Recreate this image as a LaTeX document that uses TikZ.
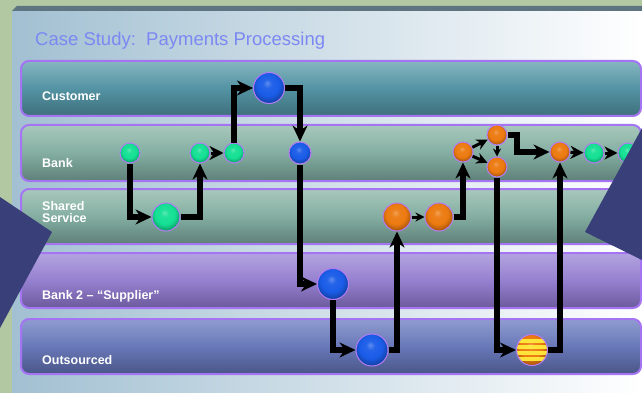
\documentclass[tikz,border=0pt]{standalone}
\usepackage{fontspec}
\setmainfont{Liberation Sans}
\usepackage{xcolor}
\usepackage{tikz}
\usetikzlibrary{
	arrows.meta,shapes
}

\definecolor{backgreen}{HTML}{B2C8A2}
\definecolor{panelleft}{HTML}{A2C0D2}
\definecolor{paneltop}{HTML}{5E7480}
\definecolor{titleblue}{HTML}{7C88F2}
\definecolor{lanerim}{HTML}{A474F2}
\definecolor{ballrim}{HTML}{B47CF4}
\definecolor{custmid}{HTML}{5393A3}
\definecolor{custtop}{HTML}{86B6C0}
\definecolor{custbot}{HTML}{3F6F7C}
\definecolor{bankmid}{HTML}{84AEA2}
\definecolor{banktop}{HTML}{A8C8BC}
\definecolor{bankbot}{HTML}{5E8078}
\definecolor{supmid}{HTML}{9580D0}
\definecolor{suptop}{HTML}{B4A4E0}
\definecolor{supbot}{HTML}{6C5A9C}
\definecolor{outmid}{HTML}{6878B8}
\definecolor{outtop}{HTML}{909CD0}
\definecolor{outbot}{HTML}{4A5688}
\definecolor{wedge}{HTML}{393F79}
\definecolor{ballgreen}{HTML}{14E094}
\definecolor{ballblue}{HTML}{1A5CE8}
\definecolor{ballorange}{HTML}{EC7A10}
\definecolor{stripe}{HTML}{FFF040}

% flat glossy balls
\newcommand\declareball[2]{%
	\pgfdeclareradialshading{#1}{\pgfqpoint{-3bp}{8bp}}{%
		color(0bp)=(#2!70!white); color(7bp)=(#2!95!white);
		color(18bp)=(#2); color(27bp)=(#2!72!black);
		color(50bp)=(#2!60!black)}}
\declareball{greenshade}{ballgreen}
\declareball{blueshade}{ballblue}
\declareball{orangeshade}{ballorange}

\begin{document}
\begin{tikzpicture}[x=1pt,y=-1pt,
	lane/.style={draw=lanerim,line width=2pt,rounded corners=8pt},
	lanelabel/.style={anchor=base west,text=white,align=left,inner sep=0pt,
		font=\bfseries\fontsize{12.5}{12.5}\selectfont},
	ball/.style={circle,draw=ballrim,line width=1pt,inner sep=0pt,minimum size=#1},
	ball/.default=20pt,
	gball/.style={ball=#1,shading=greenshade},
	bball/.style={ball=#1,shading=blueshade},
	oball/.style={ball=#1,shading=orangeshade},
	gball/.default=20pt, bball/.default=20pt, oball/.default=20pt,
	stripes/.style={path picture={
		\foreach \dy in {-9,-3,3,9}
		\fill[stripe,opacity=0.9] ([yshift={(\dy-1.6)*1pt}]path picture bounding box.west)
			rectangle ([yshift={(\dy+1.6)*1pt}]path picture bounding box.east);}},
	flow/.style={line width=5.4pt,-{Stealth[length=16pt,width=15pt]}},
	hop/.style={line width=3pt,-{Stealth[length=#1,width=#1]}},
	hop/.default=12pt,
	vh/.style={to path={|- (\tikztotarget)}},
	hv/.style={to path={-| (\tikztotarget)}}
	]
	% background
	\useasboundingbox (0,0) rectangle (642,393);
	\fill[backgreen] (0,0) rectangle (642,393);
	\shade[left color=panelleft,right color=white] (12,11) rectangle (642,393);
	\fill[paneltop] (12,11) -- (17,6) -- (642,6) -- (642,11) -- cycle;
	\node[anchor=base west,inner sep=0pt,text=titleblue,font=\fontsize{18.5}{18.5}\selectfont] (title) at (35,46)
		{Case Study:~~Payments Processing};
	% lanes
	\draw[lane,top color=custtop,bottom color=custbot,middle color=custmid] (21,61) rectangle (641,116);
	\draw[lane,top color=banktop,bottom color=bankbot,middle color=bankmid] (21,125) rectangle (641,181);
	\draw[lane,top color=banktop,bottom color=bankbot,middle color=bankmid] (21,189) rectangle (641,244);
	\draw[lane,top color=suptop,bottom color=supbot,middle color=supmid] (21,253) rectangle (641,308);
	\draw[lane,top color=outtop,bottom color=outbot,middle color=outmid] (21,319) rectangle (641,374);
	\node[lanelabel] (cust) at (42,101) {Customer};
	\node[lanelabel] (bank) at (42,167) {Bank};
	\node[lanelabel,anchor=north west] (shared) at (42,201) {Shared\\Service};
	\node[lanelabel] (sup) at (42,299) {Bank 2 -- ``Supplier''};
	\node[lanelabel] (out) at (42,364) {Outsourced};
	% nodes
	\node[gball] (g1) at (130,153) {};
	\node[gball] (g2) at (200,153) {};
	\node[gball] (g3) at (234,153) {};
	\node[gball=28pt] (g4) at (166,217) {};
	\node[bball=31pt] (b1) at (269,88) {};
	\node[bball=22pt] (b2) at (300,153) {};
	\node[bball=31pt] (b3) at (333,284) {};
	\node[bball=32pt] (b4) at (372,350) {};
	\node[oball=28pt] (o1) at (397,217) {};
	\node[oball=28pt] (o2) at (439,217) {};
	\node[oball] (o3) at (463,152) {};
	\node[oball] (o4) at (497,135) {};
	\node[oball] (o5) at (497,167) {};
	\node[oball] (o6) at (560,152) {};
	\node[oball=31pt,stripes] (y1) at (532,350) {};
	\node[gball] (g5) at (594,153) {};
	\node[gball] (g6) at (628,153) {};
	\coordinate (k1) at (517,152);
	%
	\path[flow]
	% bent arrows
	(g1) edge[vh] (g4)
	(g4) edge[hv] (g2)
	(g3) edge[vh] (b1)
	(b1) edge[hv] (b2)
	(b2) edge[vh] (b3)
	(b3) edge[vh] (b4)
	(b4) edge[hv] (o1)
	(o2) edge[hv] (o3)
	(o5) edge[vh] (y1)
	(y1) edge[hv] (o6);
	\draw[flow] (o4) -| (k1) -- (o6);
	% short hops
	\path
	(g2) edge[hop=14pt] (g3)
	(o1) edge[hop=9pt] (o2)
	(o3) edge[hop=11pt] (o4)
	(o3) edge[hop=11pt] (o5)
	(o4) edge[hop=8pt] (o5)
	(o6) edge[hop=13pt] (g5)
	(g5) edge[hop=13pt] (g6);
	% wedges
	\fill[wedge] (0,197) -- (52,232) -- (0,328) -- cycle;
	\fill[wedge] (642,128) -- (585,232) -- (642,260) -- cycle;
\end{tikzpicture}
\end{document}
